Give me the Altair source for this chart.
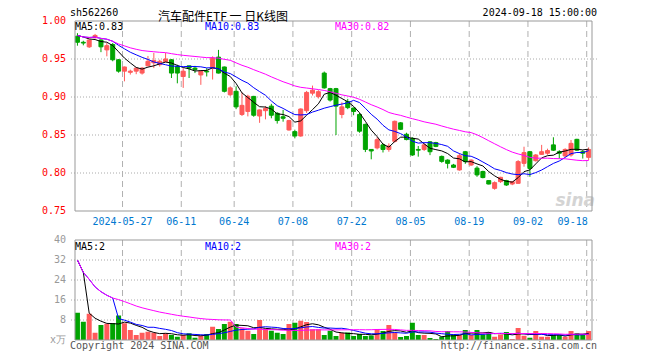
import altair as alt
import pandas as pd

symbol = "sh562260"
chart_title = "汽车配件ETF 一 日K线图"
timestamp = "2024-09-18 15:00:00"

# daily candles, 2024-05-15 .. 2024-09-18 (88 sessions)
opens = [0.980, 0.972, 0.966, 0.978, 0.975, 0.962, 0.969, 0.949, 0.934, 0.9325,
         0.934, 0.9315, 0.941, 0.945, 0.9425, 0.9465, 0.949, 0.940, 0.927, 0.941,
         0.938, 0.929, 0.934, 0.938, 0.9525, 0.9395, 0.903, 0.9075, 0.877, 0.881,
         0.9008, 0.875, 0.882, 0.888, 0.8785, 0.874, 0.8566, 0.8544, 0.8487, 0.882,
         0.905, 0.9005, 0.9315, 0.911, 0.911, 0.877, 0.894, 0.8855, 0.877, 0.864,
         0.831, 0.833, 0.837, 0.831, 0.8417, 0.866, 0.851, 0.8456, 0.831, 0.831,
         0.841, 0.840, 0.8218, 0.817, 0.8105, 0.804, 0.828, 0.8105, 0.8064, 0.802,
         0.790, 0.7798, 0.7886, 0.790, 0.7855, 0.7864, 0.8127, 0.828, 0.8162, 0.8245,
         0.826, 0.837, 0.828, 0.8224, 0.8237, 0.8443, 0.828, 0.8206]
highs = [0.984, 0.974, 0.975, 0.983, 0.976, 0.971, 0.971, 0.950, 0.940, 0.936,
         0.939, 0.9395, 0.954, 0.958, 0.949, 0.958, 0.950, 0.9425, 0.938, 0.941,
         0.941, 0.935, 0.938, 0.9535, 0.962, 0.940, 0.914, 0.914, 0.906, 0.903,
         0.9015, 0.8835, 0.888, 0.891, 0.880, 0.883, 0.870, 0.857, 0.885, 0.908,
         0.915, 0.909, 0.9335, 0.912, 0.912, 0.893, 0.8975, 0.886, 0.879, 0.865,
         0.831, 0.847, 0.839, 0.839, 0.869, 0.867, 0.853, 0.847, 0.8355, 0.839,
         0.842, 0.841, 0.823, 0.818, 0.812, 0.826, 0.829, 0.818, 0.809, 0.803,
         0.7905, 0.789, 0.795, 0.791, 0.789, 0.817, 0.8346, 0.829, 0.825, 0.837,
         0.832, 0.847, 0.830, 0.8325, 0.8434, 0.845, 0.830, 0.8338]
lows = [0.9675, 0.968, 0.9645, 0.977, 0.959, 0.9535, 0.947, 0.932, 0.9206, 0.9295,
        0.930, 0.9295, 0.941, 0.938, 0.940, 0.946, 0.925, 0.918, 0.912, 0.925,
        0.9315, 0.916, 0.927, 0.923, 0.931, 0.906, 0.901, 0.884, 0.875, 0.8745,
        0.874, 0.866, 0.8706, 0.872, 0.865, 0.8675, 0.8557, 0.8456, 0.8478, 0.879,
        0.902, 0.898, 0.911, 0.894, 0.850, 0.872, 0.884, 0.876, 0.853, 0.8275,
        0.818, 0.831, 0.827, 0.828, 0.840, 0.8565, 0.843, 0.8225, 0.8215, 0.829,
        0.8235, 0.834, 0.8135, 0.806, 0.8065, 0.803, 0.812, 0.8095, 0.795, 0.793,
        0.785, 0.778, 0.787, 0.783, 0.784, 0.786, 0.8083, 0.795, 0.815, 0.8237,
        0.824, 0.829, 0.819, 0.821, 0.8215, 0.829, 0.819, 0.817]
closes = [0.972, 0.971, 0.975, 0.981, 0.966, 0.9675, 0.949, 0.934, 0.9395, 0.934,
          0.938, 0.938, 0.947, 0.948, 0.947, 0.950, 0.9315, 0.9315, 0.934, 0.938,
          0.936, 0.934, 0.933, 0.951, 0.9315, 0.9075, 0.912, 0.887, 0.889, 0.901,
          0.876, 0.883, 0.885, 0.876, 0.869, 0.872, 0.869, 0.8487, 0.8842, 0.906,
          0.909, 0.907, 0.912, 0.896, 0.888, 0.887, 0.886, 0.881, 0.855, 0.831,
          0.829, 0.8438, 0.831, 0.8355, 0.868, 0.8575, 0.844, 0.8237, 0.830, 0.837,
          0.828, 0.835, 0.8153, 0.8127, 0.8075, 0.8228, 0.815, 0.817, 0.7975, 0.794,
          0.7855, 0.7873, 0.7943, 0.7842, 0.7886, 0.815, 0.8268, 0.806, 0.8237, 0.828,
          0.8295, 0.830, 0.826, 0.831, 0.839, 0.830, 0.826, 0.831]
# volume, 10k units
volumes = [10.9, 7.3, 10.5, 2.9, 6.0, 6.5, 6.8, 9.8, 6.7, 4.0,
           2.0, 2.9, 3.3, 2.9, 1.6, 2.7, 2.0, 1.3, 2.0, 2.7,
           0.9, 1.6, 2.4, 5.3, 4.4, 6.4, 7.3, 6.4, 4.7, 3.7,
           2.4, 8.0, 4.5, 3.7, 2.9, 2.4, 6.4, 6.9, 7.7, 7.2,
           4.3, 4.3, 2.0, 3.7, 1.6, 2.8, 3.0, 1.6, 2.4, 1.6,
           1.8, 4.3, 3.6, 6.0, 3.0, 1.2, 1.6, 6.9, 2.0, 2.0,
           0.8, 0.4, 1.3, 3.6, 2.2, 2.0, 4.0, 2.0, 4.0, 2.2,
           3.2, 1.3, 2.2, 3.2, 0.4, 4.8, 1.7, 0.9, 3.6, 1.3,
           1.3, 2.0, 2.0, 1.3, 3.6, 2.7, 2.0, 3.6]
# three earlier sessions (before the window) that feed the moving averages
pre_closes = [0.988, 0.985, 0.979]
pre_volumes = [92.0, 13.0, 12.0]

date_labels = ["2024-05-27", "06-11", "06-24", "07-08", "07-22", "08-05", "08-19", "09-02", "09-18"]
date_index = [8, 18, 27, 37, 47, 57, 67, 77, 87]
price_ticks = [1.00, 0.95, 0.90, 0.85, 0.80, 0.75]
price_grid = [0.95, 0.90, 0.85, 0.80]
volume_ticks = [40, 32, 24, 16, 8, 0]
volume_tick_text = ["40", "32", "24", "16", "8", "x万"]
volume_grid = [32, 24, 16, 8]
price_ma_text = ["MA5:0.83", "MA10:0.83", "MA30:0.82"]
volume_ma_text = ["MA5:2", "MA10:2", "MA30:2"]

RED = "#ff5a5a"
GREEN = "#00a400"
MA_COLORS = ["#000000", "#0000ff", "#ff00ff"]
MONO = "DejaVu Sans Mono"
CJK = "Noto Sans CJK SC"
W, H = 527, 320

n = len(closes)
df = pd.DataFrame({"i": list(range(n)), "open": opens, "high": highs, "low": lows,
                   "close": closes, "volume": volumes})
df["dir"] = ["up" if c >= o else "down" for o, c in zip(opens, closes)]
c_all = pd.Series(pre_closes + closes)
v_all = pd.Series(pre_volumes + volumes)
k = len(pre_closes)
for w in (5, 10, 30):
    df[f"ma{w}"] = c_all.rolling(w, min_periods=1).mean().to_numpy()[k:]
    df[f"vma{w}"] = v_all.rolling(w, min_periods=1).mean().to_numpy()[k:]

xs = alt.Scale(domain=[-0.417, 87.57], nice=False, zero=False)
ps = alt.Scale(domain=[0.75, 1.0], range=[190, 0], nice=False, zero=False)
vs = alt.Scale(domain=[0, 40], range=[319, 219], nice=False, zero=False)
dir_scale = alt.Scale(domain=["up", "down"], range=[RED, GREEN])
X = alt.X("i:Q", scale=xs, axis=None)

base = alt.Chart(df)
grid_x = pd.DataFrame({"g": [d - 0.33 for d in date_index]})

# ---------- price panel ----------
p_hgrid = alt.Chart(pd.DataFrame({"level": price_grid})).mark_rule(
    color="#aaaaaa", strokeDash=[1, 2], strokeWidth=1
).encode(y=alt.Y("level:Q", scale=ps, axis=None))
p_vgrid = alt.Chart(grid_x).mark_rule(color="#b0b0b0", strokeDash=[6, 4], strokeWidth=1).encode(
    x=alt.X("g:Q", scale=xs, axis=None), y=alt.YDatum(1.0, axis=None), y2=alt.Y2Datum(0.75))
p_frame = alt.Chart(pd.DataFrame({"x0": [-0.417], "x1": [87.57], "y0": [0.75], "y1": [1.0]})).mark_rect(
    filled=False, stroke="#999999", strokeWidth=1
).encode(x=alt.X("x0:Q", scale=xs, axis=None), x2="x1:Q",
         y=alt.Y("y0:Q", scale=ps, axis=None), y2="y1:Q")
wicks = base.mark_rule(strokeWidth=1).encode(
    x=X, y=alt.Y("low:Q", scale=ps, axis=None), y2="high:Q",
    color=alt.Color("dir:N", scale=dir_scale, legend=None))
bodies = base.mark_bar(size=4, strokeWidth=1).encode(
    x=X, y=alt.Y("open:Q", scale=ps, axis=None), y2="close:Q",
    color=alt.Color("dir:N", scale=dir_scale, legend=None),
    stroke=alt.Stroke("dir:N", scale=dir_scale, legend=None))
p_mas = [base.mark_line(strokeWidth=1, color=col).encode(
    x=X, y=alt.Y(f"ma{w}:Q", scale=ps, axis=None)) for w, col in zip((5, 10, 30), MA_COLORS)]
p_labels = alt.Chart(pd.DataFrame({"level": price_ticks, "t": [f"{v:.2f}" for v in price_ticks]})).mark_text(
    align="right", baseline="middle", color="#ff0000", font=MONO, fontSize=10, dx=-4
).encode(x=alt.value(0), y=alt.Y("level:Q", scale=ps, axis=None), text="t:N")
d_df = pd.DataFrame({"g": [d - 0.33 for d in date_index], "t": date_labels})
date_mid = alt.Chart(d_df.iloc[:-1]).mark_text(
    align="center", baseline="middle", color="#0078d0", font=MONO, fontSize=10, dy=11
).encode(x=alt.X("g:Q", scale=xs, axis=None), y=alt.YDatum(0.75, axis=None), text="t:N")
date_last = alt.Chart(d_df.iloc[-1:]).mark_text(
    align="right", baseline="middle", color="#0078d0", font=MONO, fontSize=10, dy=11, dx=1
).encode(x=alt.X("g:Q", scale=xs, axis=None), y=alt.YDatum(0.75, axis=None), text="t:N")
watermark = alt.Chart(pd.DataFrame({"t": ["sina"]})).mark_text(
    align="right", baseline="middle", color="#d4d4d4", font="DejaVu Sans", fontSize=17,
    fontStyle="italic", fontWeight="bold"
).encode(x=alt.value(525), y=alt.value(180), text="t:N")

price_group = alt.layer(p_hgrid, p_vgrid, watermark, wicks, bodies, *p_mas, p_frame,
                        p_labels, date_mid, date_last)

# ---------- volume panel ----------
v_hgrid = alt.Chart(pd.DataFrame({"level": volume_grid})).mark_rule(
    color="#aaaaaa", strokeDash=[1, 2], strokeWidth=1
).encode(y=alt.Y("level:Q", scale=vs, axis=None))
v_vgrid = alt.Chart(grid_x).mark_rule(color="#b0b0b0", strokeDash=[6, 4], strokeWidth=1).encode(
    x=alt.X("g:Q", scale=xs, axis=None), y=alt.YDatum(40, axis=None), y2=alt.Y2Datum(0))
v_frame = alt.Chart(pd.DataFrame({"x0": [-0.417], "x1": [87.57], "y0": [0], "y1": [40]})).mark_rect(
    filled=False, stroke="#999999", strokeWidth=1
).encode(x=alt.X("x0:Q", scale=xs, axis=None), x2="x1:Q",
         y=alt.Y("y0:Q", scale=vs, axis=None), y2="y1:Q")
vbars = base.mark_bar(size=5).encode(
    x=X, y=alt.Y("volume:Q", scale=vs, axis=None, stack=None),
    color=alt.Color("dir:N", scale=dir_scale, legend=None))
v_mas = [base.mark_line(strokeWidth=1, color=col).encode(
    x=X, y=alt.Y(f"vma{w}:Q", scale=vs, axis=None)) for w, col in zip((5, 10, 30), MA_COLORS)]
v_labels = alt.Chart(pd.DataFrame({"level": volume_ticks, "t": volume_tick_text})).mark_text(
    align="right", baseline="middle", color="#999999", font=MONO, fontSize=10, dx=-4
).encode(x=alt.value(0), y=alt.Y("level:Q", scale=vs, axis=None), text="t:N")

volume_group = alt.layer(v_hgrid, v_vgrid, vbars, *v_mas, v_frame, v_labels)


def label(text, x, y, color="#000000", align="left", size=10, font=MONO):
    return alt.Chart(pd.DataFrame({"t": [text]})).mark_text(
        align=align, baseline="middle", color=color, fontSize=size, font=font
    ).encode(text="t:N", x=alt.value(x), y=alt.value(y))


texts = [
    label(symbol, 0, -8),
    label(chart_title, 153, -4.5, align="center", size=12, font=CJK),
    label(timestamp, 527, -8, align="right"),
    label(price_ma_text[0], 5, 6, MA_COLORS[0]),
    label(price_ma_text[1], 135, 6, MA_COLORS[1]),
    label(price_ma_text[2], 265, 6, MA_COLORS[2]),
    label(volume_ma_text[0], 5, 226, MA_COLORS[0]),
    label(volume_ma_text[1], 135, 226, MA_COLORS[1]),
    label(volume_ma_text[2], 265, 226, MA_COLORS[2]),
    label("Copyright 2024 SINA.COM", 0, 325, "#555555"),
    label("http://finance.sina.com.cn", 527, 325, "#555555", align="right"),
]

chart = alt.layer(price_group, volume_group, *texts).resolve_scale(y="independent").properties(
    width=W, height=H,
    padding={"left": 62, "top": 13, "right": 40, "bottom": 10},
    autosize=alt.AutoSizeParams(type="none"),
).configure_view(stroke=None)

chart.save("out.html", embed_options={"renderer": "svg", "actions": False})
